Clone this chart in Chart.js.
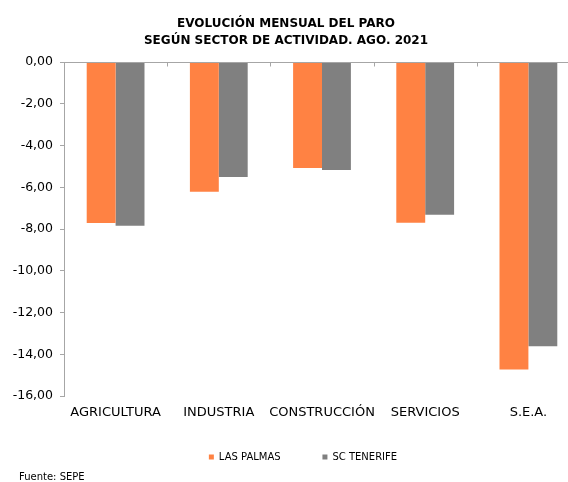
<!DOCTYPE html>
<html>
<head>
<meta charset="utf-8">
<script src="https://cdn.jsdelivr.net/npm/chart.js@4.4.0/dist/chart.umd.min.js"></script>
<style>
    html, body { margin: 0; padding: 0; overflow: hidden; background: #fff; }
    #wrap { width: 568px; height: 482px; overflow: hidden; }
</style>
</head>
<body>
<div id="wrap"><canvas id="chart" width="580" height="482"></canvas></div>
<script>
// Evolución mensual del paro por sector, agosto 2021 (%)
const sectores = ['AGRICULTURA', 'INDUSTRIA', 'CONSTRUCCIÓN', 'SERVICIOS', 'S.E.A.'];
const lasPalmas = [-7.71, -6.21, -5.08, -7.70, -14.73];
const scTenerife = [-7.84, -5.51, -5.17, -7.32, -13.62];
const yTicks = [0, -2, -4, -6, -8, -10, -12, -14, -16];

const FONT = "'DejaVu Sans', Verdana, sans-serif";
const axisGray = '#A6A6A6';

// zero line along the top with small ticks between categories
const zeroLine = {
    id: 'zeroLine',
    afterLayout(chart) {
        // the original chart was wider than the crop: nudge title/legend/source
        chart.titleBlock.left -= 4;
        chart.titleBlock.right -= 4;
        chart.legend.left += 13;
        chart.legend.right += 13;
        chart.boxes.forEach(b => {
            if (b !== chart.titleBlock && b.constructor === chart.titleBlock.constructor) {
                b.left += 19;
                b.right += 19;
            }
        });
    },
    afterDatasetsDraw(chart) {
        const ctx = chart.ctx;
        const xs = chart.scales.x;
        const ys = chart.scales.y;
        const y = Math.round(ys.getPixelForValue(0)) + 0.5;
        const step = (xs.right - xs.left) / sectores.length;
        ctx.save();
        ctx.strokeStyle = axisGray;
        ctx.lineWidth = 1;
        ctx.beginPath();
        ctx.moveTo(xs.left, y);
        ctx.lineTo(xs.right, y);
        for (let i = 1; i <= sectores.length; i++) {
            const x = Math.round(xs.getPixelForValue(i) - step / 2) + 0.5;
            ctx.moveTo(x, y);
            ctx.lineTo(x, y + 4);
        }
        ctx.stroke();
        ctx.restore();
    }
};

new Chart(document.getElementById('chart'), {
    type: 'bar',
    data: {
        labels: sectores,
        datasets: [{
            label: 'LAS PALMAS',
            data: lasPalmas,
            backgroundColor: '#FF8243',
            barPercentage: 1,
            categoryPercentage: 0.56
        }, {
            label: 'SC TENERIFE',
            data: scTenerife,
            backgroundColor: '#808080',
            barPercentage: 1,
            categoryPercentage: 0.56
        }]
    },
    options: {
        responsive: false,
        animation: false,
        layout: { padding: 0 },
        plugins: {
            title: {
                display: true,
                text: ['EVOLUCIÓN MENSUAL DEL PARO', 'SEGÚN SECTOR DE ACTIVIDAD. AGO. 2021'],
                color: '#000',
                font: { family: FONT, size: 12, weight: 'bold', lineHeight: 1.42 },
                padding: { top: 15.5, bottom: 12.5 }
            },
            subtitle: {
                display: true,
                position: 'bottom',
                align: 'start',
                text: 'Fuente: SEPE',
                color: '#000',
                font: { family: FONT, size: 10, lineHeight: 1 },
                padding: 0
            },
            legend: {
                position: 'bottom',
                labels: {
                    color: '#000',
                    font: { family: FONT, size: 10 },
                    boxWidth: 5,
                    boxHeight: 5,
                    padding: 10,
                    // wider gap between the two entries, as in the original
                    generateLabels: function(chart) {
                        const items = Chart.defaults.plugins.legend.labels.generateLabels(chart);
                        items[0].text += '\u00a0'.repeat(10);
                        return items;
                    }
                }
            },
            tooltip: { enabled: false }
        },
        scales: {
            x: {
                grid: { display: false },
                border: { display: false },
                afterFit: function(scale) {
                    scale.height = 46;
                },
                ticks: {
                    color: '#000',
                    font: { family: FONT, size: 13 },
                    padding: 1,
                    maxRotation: 0,
                    autoSkip: false
                }
            },
            y: {
                min: -16,
                max: 0,
                afterBuildTicks: function(scale) {
                    scale.ticks = yTicks.map(v => ({ value: v }));
                },
                afterFit: function(scale) {
                    scale.width = 64;
                },
                grid: {
                    drawOnChartArea: false,
                    drawTicks: true,
                    tickLength: 4,
                    color: axisGray
                },
                border: { display: true, color: axisGray },
                ticks: {
                    color: '#000',
                    font: { family: FONT, size: 12.5 },
                    padding: 7,
                    callback: function(value) {
                        return value.toFixed(2).replace('.', ',');
                    }
                }
            }
        }
    },
    plugins: [zeroLine]
});
</script>
</body>
</html>
